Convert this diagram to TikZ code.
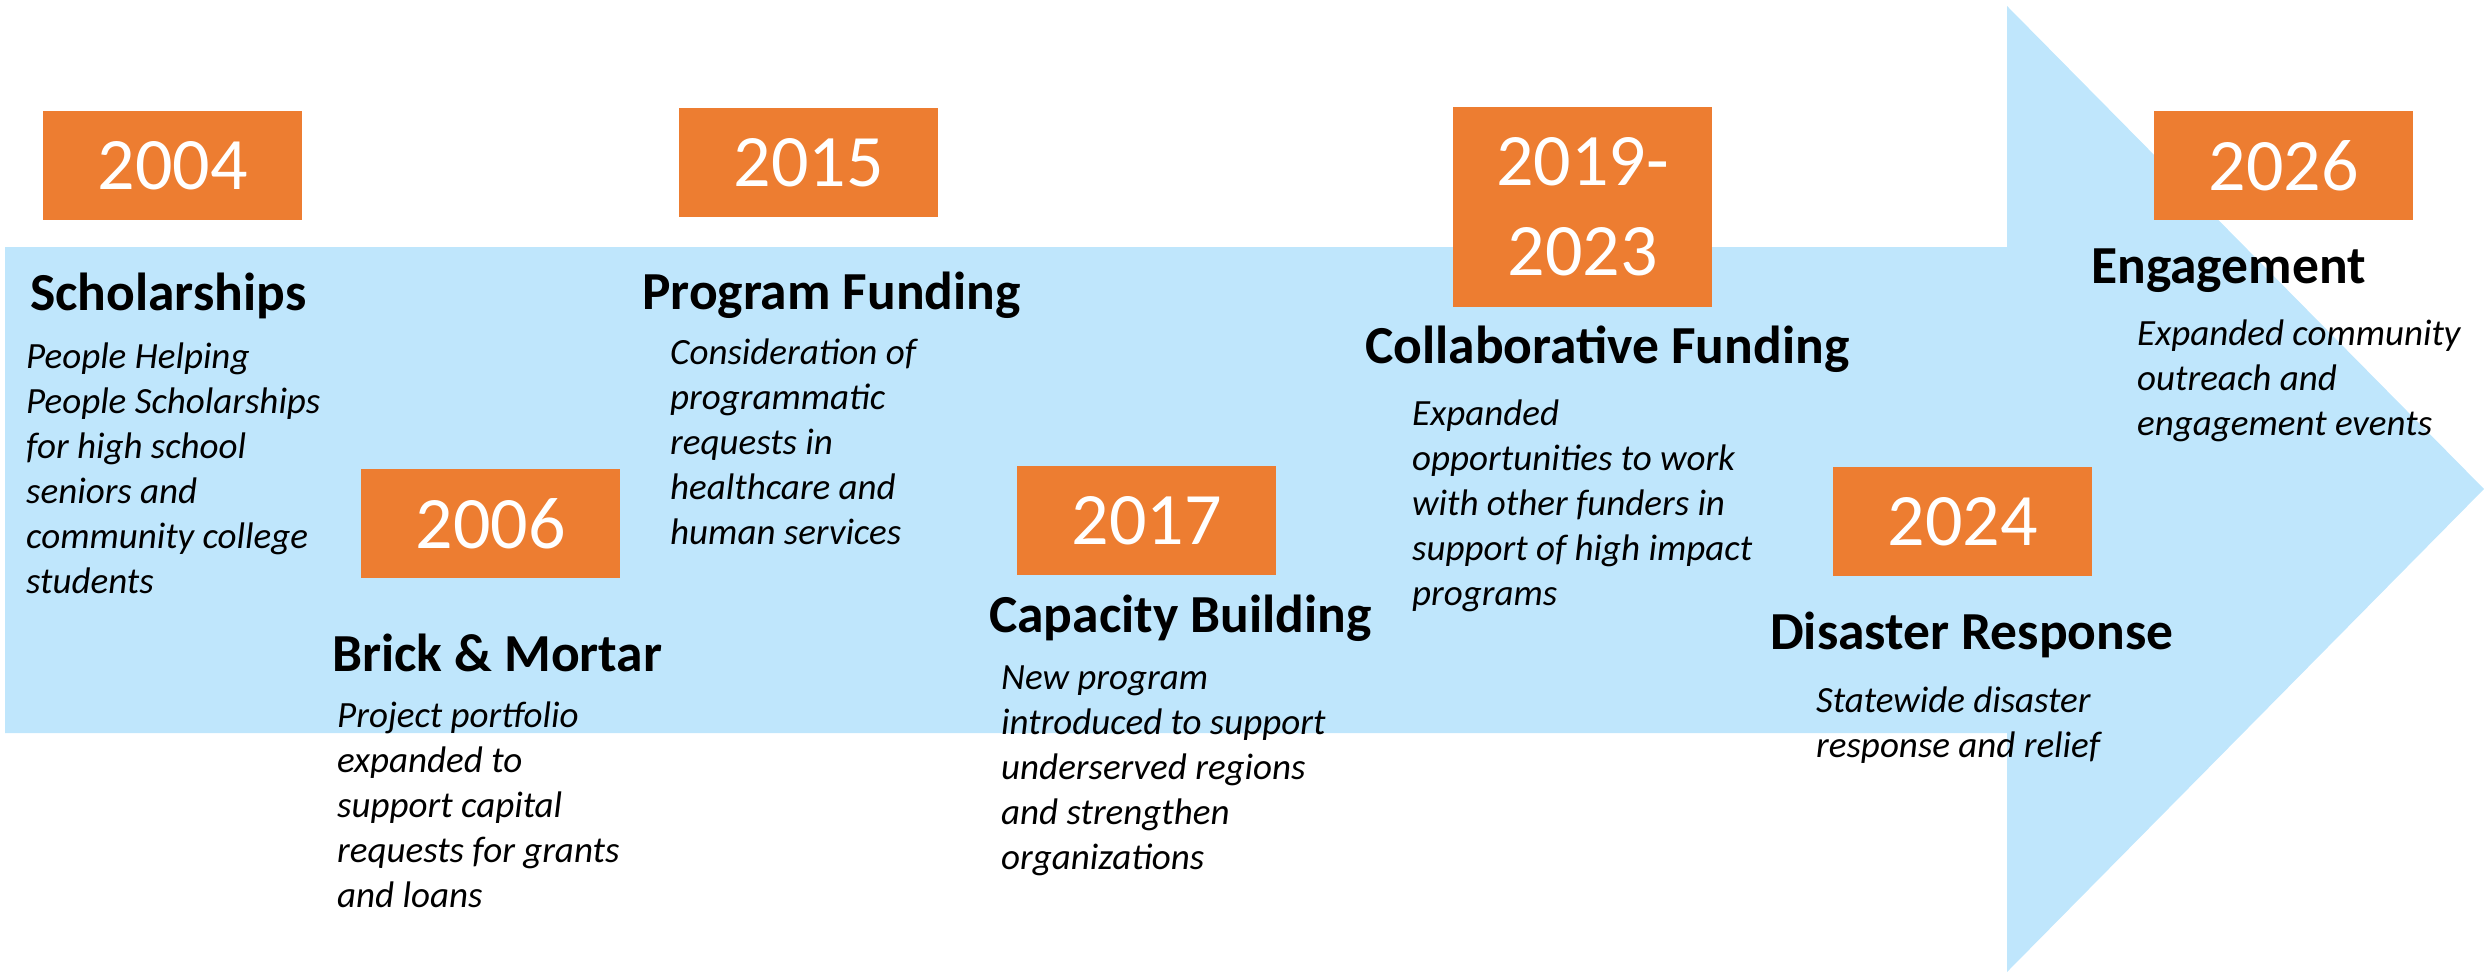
\documentclass[tikz,border=0pt]{standalone}
\usepackage{fontspec}
\setmainfont{Carlito}
\definecolor{arrowblue}{RGB}{191,230,252}
\definecolor{boxorange}{RGB}{237,125,49}
\begin{document}
\begin{tikzpicture}[x=1pt,y=-1pt,
  yearbox/.style={fill=boxorange,text=white,minimum width=259pt,minimum height=109pt,inner sep=0pt,align=center,font=\fontsize{74}{90}\selectfont},
  title/.style={anchor=base west,inner sep=0pt,font=\fontsize{53.5}{60}\selectfont\bfseries},
  body/.style={anchor=base west,inner sep=0pt,align=left,font=\fontsize{37}{45}\selectfont\itshape}]
\useasboundingbox (0,0) rectangle (2484,974);
\fill[arrowblue] (5,247) -- (2007,247) -- (2007,6) -- (2484,489) -- (2007,972) -- (2007,733) -- (5,733) -- cycle;

\node[yearbox] (y2004) at (172.5,165.5) {2004};
\node[yearbox] (y2015) at (808.5,162.5) {2015};
\node[yearbox] (y2006) at (490.5,523.5) {2006};
\node[yearbox] (y2017) at (1146.5,520.5) {2017};
\node[yearbox,minimum height=200pt] (y2019) at (1582.5,207) {2019-\\2023};
\node[yearbox] (y2026) at (2283.5,165.5) {2026};
\node[yearbox] (y2024) at (1962.5,521.5) {2024};

\node[title] (t1) at (30,310) {Scholarships};
\node[title] (t2) at (332,671) {Brick \& Mortar};
\node[title] (t3) at (642,309) {Program Funding};
\node[title] (t4) at (989,632) {Capacity Building};
\node[title] (t5) at (1365,363) {Collaborative Funding};
\node[title] (t6) at (1770,649) {Disaster Response};
\node[title] (t7) at (2091,283) {Engagement};

% base anchor = baseline of the last line
\node[body] (b1) at (26,593) {People Helping\\People Scholarships\\for high school\\seniors and\\community college\\students};
\node[body] (b2) at (337,907) {Project portfolio\\expanded to\\support capital\\requests for grants\\and loans};
\node[body] (b3) at (670,544) {Consideration of\\programmatic\\requests in\\healthcare and\\human services};
\node[body] (b4) at (1001,869) {New program\\introduced to support\\underserved regions\\and strengthen\\organizations};
\node[body] (b5) at (1412,605) {Expanded\\opportunities to work\\with other funders in\\support of high impact\\programs};
\node[body] (b6) at (1816,757) {Statewide disaster\\response and relief};
\node[body] (b7) at (2137,435) {Expanded community\\outreach and\\engagement events};
\end{tikzpicture}
\end{document}
